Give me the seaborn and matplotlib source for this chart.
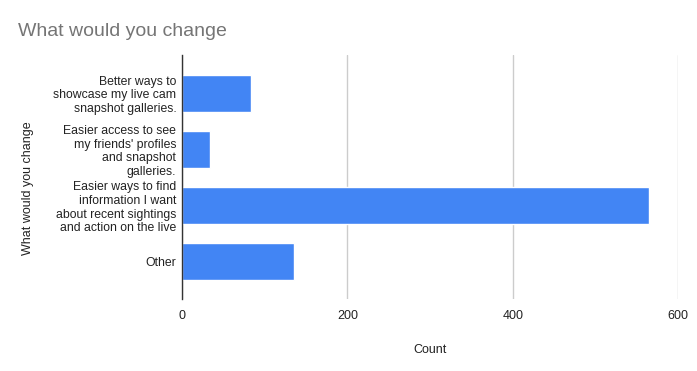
import pandas as pd
import matplotlib.pyplot as plt
import seaborn as sns

# Datos
categories = [
    "Better ways to\nshowcase my live cam\nsnapshot galleries.",
    "Easier access to see\nmy friends' profiles\nand snapshot\ngalleries.",
    "Easier ways to find\ninformation I want\nabout recent sightings\nand action on the live",
    "Other",
]
counts = [84, 34, 565, 136]
x_ticks = [0, 200, 400, 600]

df = pd.DataFrame({'answer': categories, 'count': counts})

sns.set_style('white')
plt.rcParams['font.family'] = ['Liberation Sans', 'DejaVu Sans']

fig = plt.figure(figsize=(6.97, 3.71), dpi=100)
ax = fig.add_axes([0.261, 0.194, 0.712, 0.658])

sns.barplot(data=df, x='count', y='answer', orient='h', color='#4285f4',
            saturation=1, width=0.66, ax=ax)

ax.set_xlim(0, 600)
ax.set_ylim(3.67, -0.68)
ax.set_xticks(x_ticks)
ax.set_xticklabels([str(t) for t in x_ticks], fontsize=9, color='#222222')
ax.tick_params(axis='both', length=0)
ax.tick_params(axis='x', pad=8)
ax.tick_params(axis='y', pad=4)
for lbl in ax.get_yticklabels():
    lbl.set_fontsize(8.8)
    lbl.set_color('#222222')
    lbl.set_linespacing(1.2)
    lbl.set_horizontalalignment('right')
    lbl.set_multialignment('right')

ax.xaxis.grid(True, color='#cccccc', linewidth=1)
ax.set_axisbelow(True)
for s in ['top', 'right', 'bottom']:
    ax.spines[s].set_visible(False)
ax.spines['left'].set_color('#333333')
ax.spines['left'].set_linewidth(1)

ax.set_xlabel('Count', fontsize=9, color='#222222', labelpad=16)
ax.set_ylabel('What would you change', fontsize=9, color='#222222')
ax.yaxis.set_label_coords(-0.298, 0.455)

fig.text(18 / 697, 1 - 32 / 371, 'What would you change', fontsize=14,
         color='#757575', va='center', ha='left')

fig.savefig('out.png', dpi=100)
